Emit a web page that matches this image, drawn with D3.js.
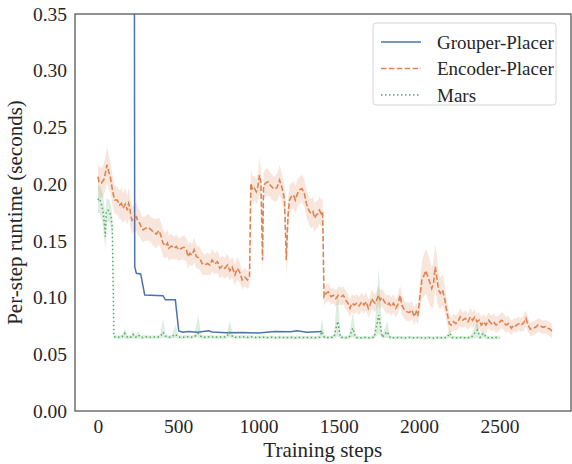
<!DOCTYPE html>
<html>
<head>
<meta charset="utf-8">
<script src="https://cdn.jsdelivr.net/npm/d3@7"></script>
<style>
  body { margin: 0; background: #fff; }
  text { font-family: "Liberation Serif", "Times New Roman", serif; fill: #262626; }
</style>
</head>
<body>
<div id="chart"></div>
<script>
// chart size
const WIDTH = 572;
const HEIGHT = 464;
const MARGIN = { TOP: 14, BOTTOM: 53, LEFT: 75, RIGHT: 1 };

const SERIES = ['Grouper-Placer', 'Encoder-Placer', 'Mars'];
const COLORS = ['#4c72b0', '#dd8452', '#55a868'];
const X_TICKS = [0, 500, 1000, 1500, 2000, 2500];
const Y_TICKS = [0, 0.05, 0.10, 0.15, 0.20, 0.25, 0.30, 0.35];

// [step, runtime]
const grouperPlacer = [
  [225, 0.6], [229, 0.1273], [239, 0.1214], [266, 0.1208], [291, 0.1023],
  [405, 0.1017], [420, 0.098], [482, 0.098], [503, 0.0705], [530, 0.0694],
  [560, 0.0700], [620, 0.0694], [690, 0.0708], [710, 0.0696], [800, 0.0690],
  [900, 0.0692], [1000, 0.0688], [1100, 0.0700], [1200, 0.0698], [1240, 0.0708],
  [1300, 0.0695], [1395, 0.0700]
];

// [step, runtime, ci half width]
const encoderPlacer = [
  [0,0.2066,0.014],[6,0.202,0.014],[21,0.201,0.013],[37,0.204,0.014],[46,0.2096,0.015],
  [56,0.217,0.016],[67,0.211,0.015],[77,0.2066,0.014],[83,0.2008,0.013],[94,0.192,0.013],
  [104,0.186,0.012],[120,0.186,0.012],[135,0.1817,0.013],[146,0.183,0.014],[156,0.1787,0.013],
  [171,0.1825,0.014],[183,0.177,0.013],[191,0.183,0.014],[198,0.180,0.013],[204,0.1728,0.013],
  [212,0.168,0.012],[225,0.170,0.012],[239,0.1713,0.013],[250,0.167,0.012],[260,0.1655,0.012],
  [270,0.162,0.011],[281,0.1596,0.011],[295,0.161,0.011],[312,0.162,0.012],[329,0.160,0.011],
  [343,0.158,0.012],[364,0.156,0.013],[379,0.159,0.012],[391,0.155,0.012],[405,0.148,0.012],
  [420,0.1455,0.011],[433,0.148,0.012],[441,0.1434,0.011],[457,0.1455,0.011],[474,0.1434,0.010],
  [488,0.145,0.011],[503,0.142,0.010],[520,0.1434,0.010],[536,0.1443,0.011],[551,0.142,0.010],
  [561,0.136,0.011],[572,0.139,0.010],[586,0.1375,0.010],[599,0.142,0.011],[613,0.136,0.010],
  [634,0.1346,0.010],[649,0.130,0.010],[666,0.1287,0.009],[682,0.130,0.010],[697,0.1287,0.009],
  [711,0.133,0.010],[728,0.1296,0.009],[744,0.1316,0.010],[759,0.1258,0.009],[774,0.1278,0.009],
  [790,0.1258,0.009],[807,0.1287,0.010],[821,0.1237,0.009],[836,0.127,0.009],[853,0.120,0.009],
  [869,0.1258,0.010],[884,0.122,0.009],[898,0.1155,0.008],[915,0.118,0.008],[931,0.1155,0.008],
  [944,0.1184,0.009],
  [952,0.2008,0.012],[963,0.195,0.012],[975,0.1963,0.011],[986,0.1934,0.011],[996,0.198,0.012],
  [1006,0.208,0.016],[1015,0.2008,0.013],[1025,0.133,0.015],[1031,0.198,0.012],[1042,0.2008,0.012],
  [1058,0.202,0.012],[1073,0.199,0.011],[1087,0.197,0.011],[1100,0.1955,0.011],[1115,0.197,0.012],
  [1131,0.2037,0.013],[1142,0.199,0.012],[1152,0.1934,0.012],[1162,0.186,0.012],[1173,0.133,0.015],
  [1183,0.1713,0.014],[1193,0.186,0.013],[1204,0.189,0.012],[1218,0.1904,0.012],[1229,0.186,0.012],
  [1243,0.192,0.012],[1256,0.195,0.012],[1270,0.196,0.012],[1285,0.192,0.012],[1298,0.183,0.012],
  [1312,0.177,0.012],[1327,0.174,0.013],[1339,0.1757,0.013],[1350,0.170,0.013],[1360,0.173,0.012],
  [1370,0.174,0.012],[1379,0.177,0.012],[1391,0.174,0.012],[1399,0.1757,0.012],
  [1408,0.1008,0.008],[1420,0.1038,0.008],[1435,0.105,0.008],[1452,0.1008,0.007],[1466,0.102,0.007],
  [1481,0.099,0.007],[1497,0.102,0.008],[1514,0.1008,0.008],[1528,0.102,0.008],[1543,0.098,0.008],
  [1560,0.0943,0.008],[1570,0.0905,0.008],[1580,0.095,0.008],[1597,0.0935,0.008],[1611,0.095,0.008],
  [1626,0.0926,0.008],[1643,0.0964,0.008],[1657,0.0935,0.008],[1670,0.0964,0.008],[1684,0.0905,0.008],
  [1695,0.0935,0.008],[1705,0.099,0.009],[1716,0.0964,0.008],[1726,0.095,0.008],[1736,0.098,0.008],
  [1747,0.102,0.009],[1757,0.098,0.008],[1767,0.1002,0.008],[1784,0.0964,0.008],[1799,0.0935,0.008],
  [1813,0.095,0.008],[1826,0.092,0.008],[1840,0.095,0.008],[1855,0.0905,0.008],[1867,0.0935,0.008],
  [1882,0.102,0.009],[1892,0.0935,0.008],[1909,0.089,0.008],[1923,0.0876,0.008],[1938,0.0867,0.008],
  [1955,0.089,0.008],[1970,0.0832,0.008],[1982,0.0876,0.008],[1992,0.0838,0.008],
  [2003,0.098,0.012],[2017,0.1155,0.016],[2027,0.1184,0.018],[2042,0.1237,0.020],[2054,0.1184,0.020],
  [2069,0.1126,0.020],[2079,0.108,0.018],[2090,0.1126,0.020],[2100,0.127,0.020],[2110,0.1184,0.020],
  [2121,0.1067,0.016],[2132,0.1038,0.014],[2146,0.1067,0.014],[2159,0.099,0.012],[2173,0.0876,0.010],
  [2188,0.077,0.008],[2200,0.0758,0.007],[2215,0.0787,0.007],[2229,0.077,0.007],[2246,0.080,0.007],
  [2256,0.083,0.008],[2271,0.080,0.007],[2288,0.0817,0.007],[2304,0.0787,0.007],[2319,0.083,0.008],
  [2333,0.080,0.007],[2346,0.0826,0.007],[2360,0.0787,0.007],[2375,0.080,0.007],[2387,0.0758,0.007],
  [2402,0.0787,0.007],[2416,0.0758,0.007],[2433,0.080,0.007],[2450,0.077,0.007],[2464,0.0787,0.007],
  [2479,0.0758,0.007],[2495,0.077,0.007],[2512,0.080,0.007],[2527,0.0787,0.007],[2541,0.0758,0.007],
  [2558,0.077,0.007],[2575,0.0729,0.006],[2589,0.0758,0.006],[2603,0.075,0.006],[2620,0.077,0.006],
  [2637,0.0758,0.006],[2651,0.0778,0.007],[2666,0.0817,0.007],[2678,0.0758,0.006],[2693,0.072,0.006],
  [2707,0.0729,0.006],[2724,0.0738,0.006],[2741,0.0758,0.006],[2755,0.075,0.006],[2770,0.0738,0.006],
  [2787,0.0743,0.006],[2803,0.0729,0.006],[2818,0.072,0.006],[2828,0.070,0.006]
];

// [step, runtime, band low, band high]
const mars = [
  [0,0.186,0.174,0.198],[6,0.1875,0.175,0.200],[17,0.1846,0.172,0.197],[31,0.177,0.163,0.191],
  [42,0.1625,0.147,0.178],[46,0.1537,0.142,0.166],[52,0.1757,0.163,0.188],[62,0.177,0.167,0.187],
  [73,0.1757,0.166,0.186],[83,0.170,0.160,0.180],[89,0.1625,0.152,0.172],[95,0.110,0.105,0.115],
  [99,0.0655,0.0640,0.0670],
  [125,0.0650,0.0635,0.0665],[150,0.0655,0.0640,0.0670],[166,0.0685,0.0640,0.0730],[185,0.0648,0.0633,0.0663],
  [205,0.0652,0.0637,0.0667],[218,0.0676,0.0640,0.0705],[235,0.0650,0.0635,0.0665],[250,0.0670,0.0640,0.0700],
  [270,0.0648,0.0633,0.0663],[295,0.0655,0.0640,0.0670],[320,0.0650,0.0635,0.0665],[345,0.0653,0.0638,0.0668],
  [370,0.0650,0.0635,0.0665],[390,0.0660,0.0642,0.0680],[405,0.0694,0.0645,0.0820],[420,0.0660,0.0642,0.0680],
  [440,0.0650,0.0635,0.0665],[460,0.0655,0.0640,0.0670],[483,0.0676,0.0642,0.0760],[500,0.0652,0.0637,0.0667],
  [525,0.0650,0.0635,0.0665],[550,0.0655,0.0640,0.0670],[575,0.0650,0.0635,0.0665],[600,0.0655,0.0640,0.0670],
  [624,0.0685,0.0645,0.0850],[645,0.0652,0.0637,0.0667],[670,0.0650,0.0635,0.0665],[700,0.0655,0.0640,0.0670],
  [725,0.0650,0.0635,0.0665],[750,0.0653,0.0638,0.0668],[775,0.0650,0.0635,0.0665],[800,0.0655,0.0640,0.0670],
  [821,0.0694,0.0645,0.0800],[840,0.0652,0.0637,0.0667],[870,0.0650,0.0635,0.0665],[900,0.0655,0.0640,0.0670],
  [930,0.0650,0.0635,0.0665],[960,0.0653,0.0638,0.0668],[990,0.0648,0.0633,0.0663],[1020,0.0652,0.0637,0.0667],
  [1050,0.0648,0.0633,0.0663],[1080,0.0650,0.0635,0.0665],[1110,0.0646,0.0631,0.0661],[1140,0.0650,0.0635,0.0665],
  [1170,0.0647,0.0632,0.0662],[1200,0.0650,0.0635,0.0665],[1230,0.0646,0.0631,0.0661],[1260,0.0650,0.0635,0.0665],
  [1290,0.0647,0.0632,0.0662],[1320,0.0649,0.0634,0.0664],[1350,0.0646,0.0631,0.0661],[1380,0.0650,0.0635,0.0668],
  [1395,0.0700,0.0645,0.0820],[1410,0.0650,0.0635,0.0668],[1440,0.0648,0.0633,0.0663],[1470,0.0652,0.0637,0.0670],
  [1493,0.0790,0.0660,0.1080],[1510,0.0650,0.0635,0.0670],[1540,0.0646,0.0631,0.0661],[1565,0.0650,0.0635,0.0670],
  [1587,0.0730,0.0650,0.0876],[1605,0.0648,0.0633,0.0665],[1630,0.0645,0.0630,0.0660],[1660,0.0648,0.0633,0.0663],
  [1690,0.0645,0.0630,0.0660],[1720,0.0650,0.0635,0.0670],[1749,0.0846,0.0680,0.1260],[1770,0.0650,0.0635,0.0670],
  [1801,0.0700,0.0645,0.0790],[1820,0.0647,0.0632,0.0662],[1850,0.0645,0.0630,0.0660],[1880,0.0648,0.0633,0.0663],
  [1910,0.0644,0.0629,0.0659],[1940,0.0648,0.0633,0.0663],[1970,0.0645,0.0630,0.0660],[2000,0.0648,0.0633,0.0663],
  [2030,0.0644,0.0629,0.0659],[2060,0.0647,0.0632,0.0662],[2090,0.0644,0.0629,0.0659],[2120,0.0648,0.0633,0.0663],
  [2150,0.0645,0.0630,0.0660],[2175,0.0650,0.0635,0.0668],[2190,0.0685,0.0645,0.0730],[2205,0.0648,0.0633,0.0663],
  [2235,0.0645,0.0630,0.0660],[2265,0.0648,0.0633,0.0663],[2295,0.0644,0.0629,0.0659],[2325,0.0650,0.0635,0.0668],
  [2362,0.0714,0.0645,0.0800],[2380,0.0650,0.0635,0.0668],[2400,0.0685,0.0642,0.0720],[2420,0.0648,0.0633,0.0663],
  [2450,0.0645,0.0630,0.0660],[2475,0.0648,0.0633,0.0663],[2502,0.0646,0.0631,0.0661]
];

const width = WIDTH - MARGIN.LEFT - MARGIN.RIGHT;
const height = HEIGHT - MARGIN.TOP - MARGIN.BOTTOM;

const svg = d3.select('#chart')
  .append('svg')
    .attr('width', WIDTH)
    .attr('height', HEIGHT);

const container = svg.append('g')
    .attr('transform', `translate(${MARGIN.LEFT}, ${MARGIN.TOP})`);

const x = d3.scaleLinear().domain([-143, 2946]).range([0, width]);
const y = d3.scaleLinear().domain([0, 0.35]).range([height, 0]);

container.append('clipPath')
    .attr('id', 'plot-clip')
  .append('rect')
    .attr('width', width)
    .attr('height', height);

const plot = container.append('g').attr('clip-path', 'url(#plot-clip)');

const ciBand = d3.area()
    .x(d => x(d[0]))
    .y0(d => y(d[1] - d[2]))
    .y1(d => y(d[1] + d[2]));

const rangeBand = d3.area()
    .x(d => x(d[0]))
    .y0(d => y(d[2]))
    .y1(d => y(d[3]));

const line = d3.line()
    .x(d => x(d[0]))
    .y(d => y(d[1]));

// confidence bands
plot.append('path').datum(encoderPlacer)
    .attr('d', ciBand)
    .attr('fill', COLORS[1])
    .attr('fill-opacity', 0.2);

plot.append('path').datum(mars)
    .attr('d', rangeBand)
    .attr('fill', COLORS[2])
    .attr('fill-opacity', 0.2);

const DASHES = [null, '5.5,2.4', '1.5,2.5'];

plot.append('path').datum(grouperPlacer)
    .attr('d', line)
    .attr('fill', 'none')
    .attr('stroke', COLORS[0])
    .attr('stroke-width', 1.5);

plot.append('path').datum(encoderPlacer)
    .attr('d', line)
    .attr('fill', 'none')
    .attr('stroke', COLORS[1])
    .attr('stroke-width', 1.6)
    .attr('stroke-dasharray', DASHES[1]);

plot.append('path').datum(mars)
    .attr('d', line)
    .attr('fill', 'none')
    .attr('stroke', COLORS[2])
    .attr('stroke-width', 1.5)
    .attr('stroke-dasharray', DASHES[2]);

// axes, no tick marks (seaborn white)
const xAxis = container.append('g')
    .attr('transform', `translate(0, ${height})`)
    .call(d3.axisBottom(x).tickValues(X_TICKS).tickSize(0).tickPadding(8).tickFormat(d3.format('d')));

const yAxis = container.append('g')
    .call(d3.axisLeft(y).tickValues(Y_TICKS).tickSize(0).tickPadding(8).tickFormat(d3.format('.2f')));

[xAxis, yAxis].forEach(a => {
  a.select('.domain').remove();
  a.selectAll('text')
    .style('font-family', '"Liberation Serif", serif')
    .style('font-size', '19.5px')
    .attr('fill', '#262626');
});

container.append('rect')
    .attr('width', width)
    .attr('height', height)
    .attr('fill', 'none')
    .attr('stroke', '#505050')
    .attr('stroke-width', 1.25);

container.append('text')
    .attr('x', x(1400))
    .attr('y', height + 46)
    .attr('text-anchor', 'middle')
    .style('font-size', '21px')
    .text('Training steps');

container.append('text')
    .attr('transform', `translate(${-53}, ${height / 2}) rotate(-90)`)
    .attr('text-anchor', 'middle')
    .style('font-size', '21px')
    .text('Per-step runtime (seconds)');

// legend
const legend = svg.append('g').attr('transform', 'translate(373, 23)');

legend.append('rect')
    .attr('width', 183)
    .attr('height', 82)
    .attr('rx', 3)
    .attr('fill', '#fff')
    .attr('fill-opacity', 0.8)
    .attr('stroke', '#d6d6d6')
    .attr('stroke-width', 1);

SERIES.forEach((name, i) => {
  const row = legend.append('g').attr('transform', `translate(0, ${19 + i * 26.5})`);
  row.append('line')
      .attr('x1', 8).attr('x2', 48)
      .attr('stroke', COLORS[i])
      .attr('stroke-width', 1.5)
      .attr('stroke-dasharray', DASHES[i]);
  row.append('text')
      .attr('x', 64)
      .attr('y', 6.5)
      .style('font-size', '19px')
      .text(name);
});
</script>
</body>
</html>
